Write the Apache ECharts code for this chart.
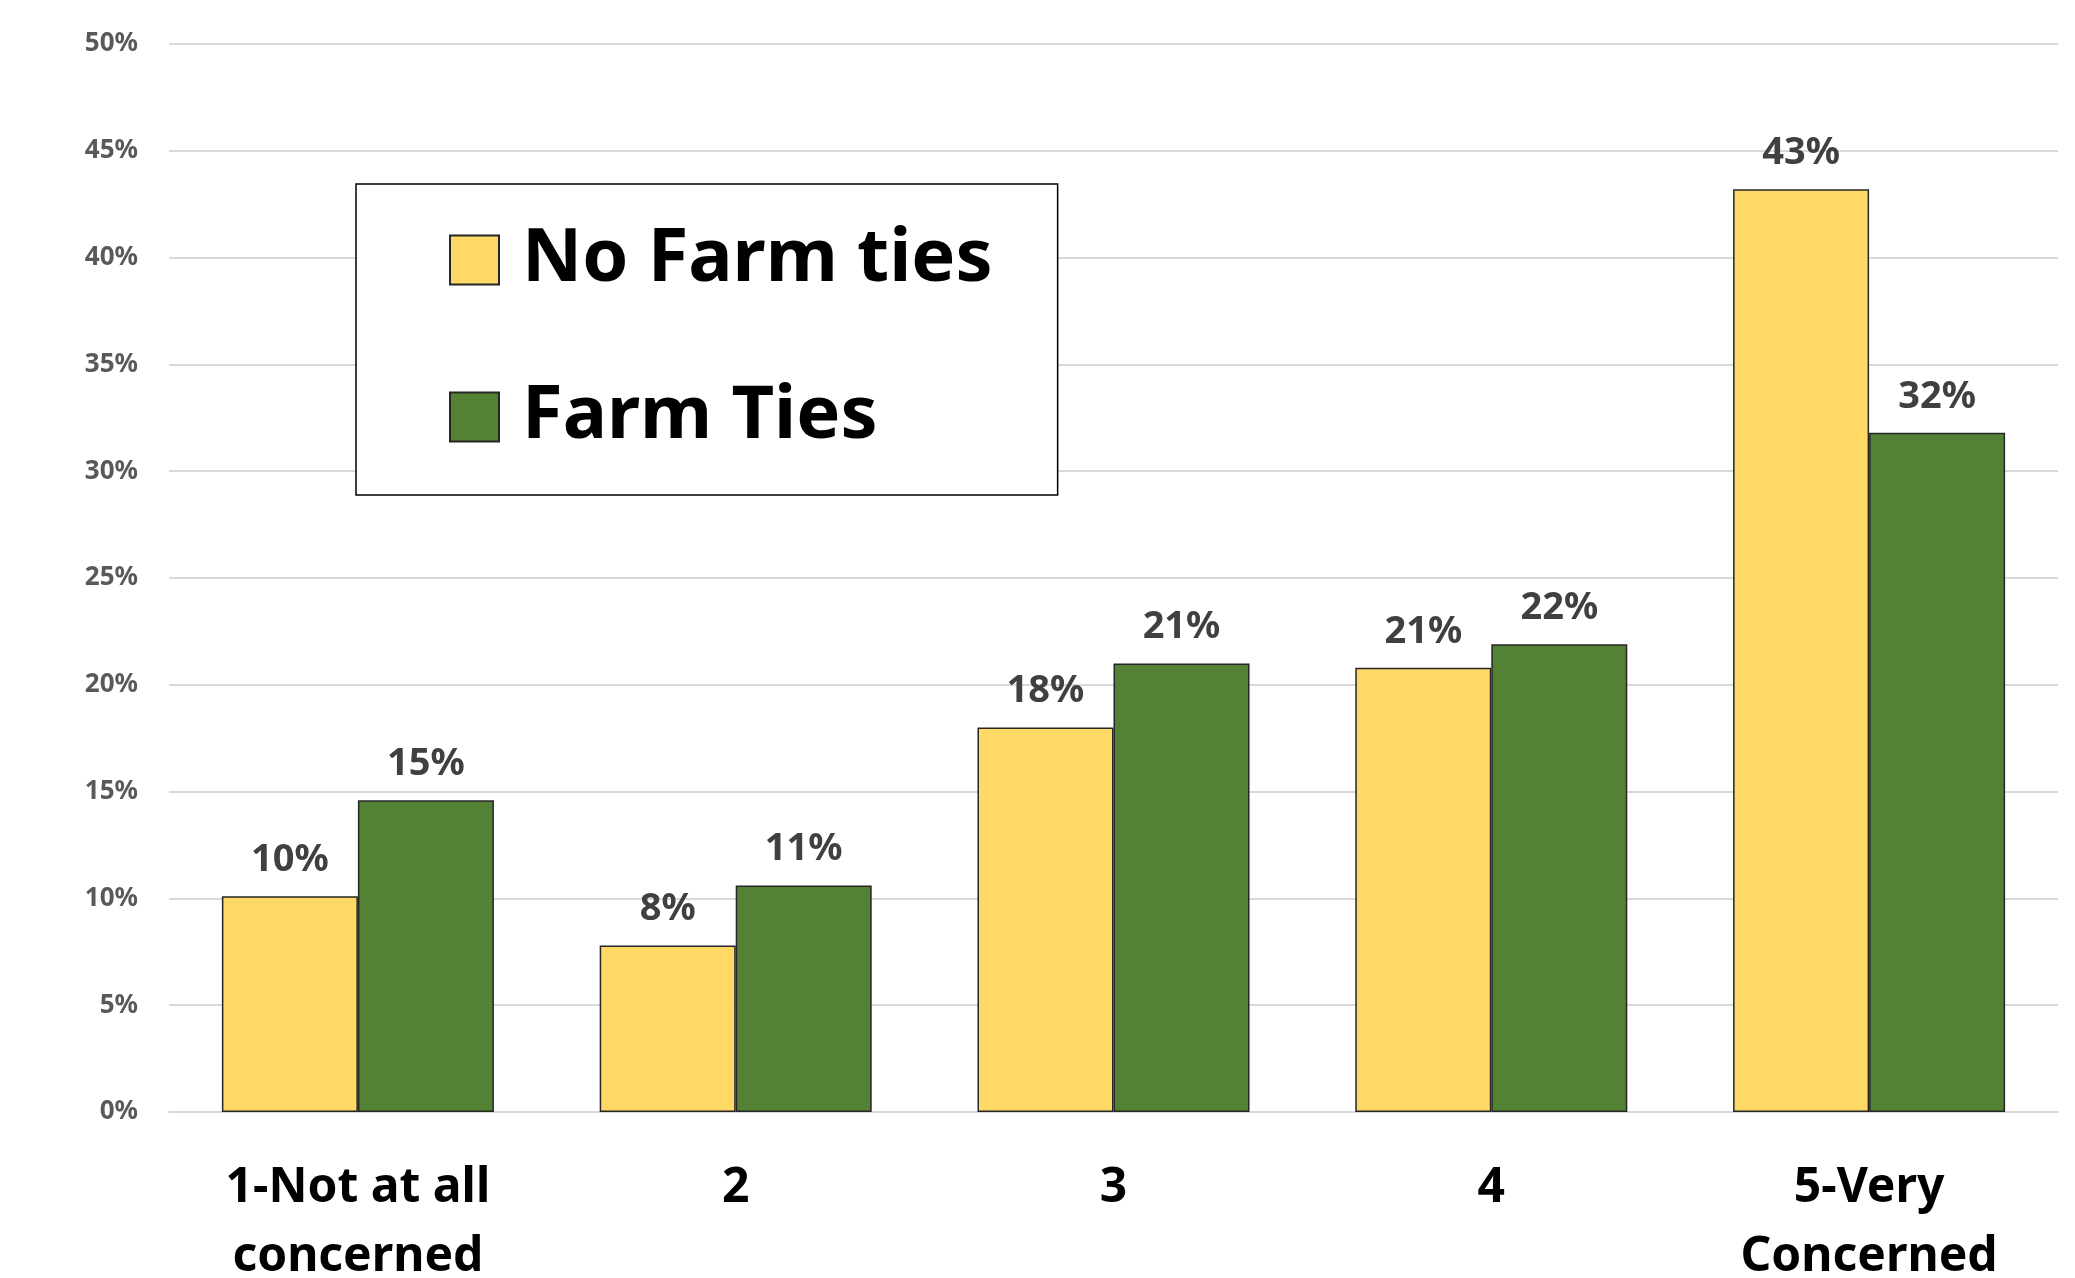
<!DOCTYPE html>
<html>
<head>
<meta charset="utf-8">
<script src="https://cdn.jsdelivr.net/npm/echarts@6/dist/echarts.min.js"></script>
<style>
html,body{margin:0;padding:0;background:#fff;}
#chart{width:2075px;height:1278px;}
</style>
</head>
<body>
<div id="chart"></div>
<script>
var categories = ['1-Not at all\nconcerned', '2', '3', '4', '5-Very\nConcerned'];
var seriesNames = ['No Farm ties', 'Farm Ties'];
var noFarmTies = [10.1, 7.8, 18.0, 20.8, 43.2];
var farmTies = [14.6, 10.6, 21.0, 21.9, 31.8];
var yTicks = {min: 0, max: 50, interval: 5};

var chart = echarts.init(document.getElementById('chart'));
var labelOpt = {
  show: true,
  position: 'top',
  distance: 17,
  color: '#404040',
  fontFamily: 'Noto Sans',
  fontWeight: 'bold',
  fontSize: 38,
  formatter: function (p) { return Math.round(p.value) + '%'; }
};
chart.setOption({
  animation: false,
  backgroundColor: '#ffffff',
  grid: {left: 169, right: 17, top: 44, bottom: 166, containLabel: false, outerBoundsMode: 'none'},
  legend: {
    orient: 'vertical',
    left: 356,
    top: 184,
    padding: [39, 65, 41, 93],
    borderColor: '#000000',
    borderWidth: 1.5,
    backgroundColor: '#ffffff',
    itemWidth: 49,
    itemHeight: 49,
    itemGap: 83,
    icon: 'rect',
    textStyle: {
      fontFamily: 'Noto Sans',
      fontWeight: 'bold',
      fontSize: 74,
      color: '#000000',
      padding: [0, 0, 0, 18]
    },
    data: seriesNames
  },
  xAxis: {
    type: 'category',
    data: categories,
    axisLine: {show: true, lineStyle: {color: '#d9d9d9', width: 2}},
    axisTick: {show: false},
    axisLabel: {
      color: '#000000',
      fontFamily: 'Noto Sans',
      fontWeight: 'bold',
      fontSize: 48,
      lineHeight: 69,
      margin: 42,
      interval: 0
    }
  },
  yAxis: {
    type: 'value',
    min: yTicks.min,
    max: yTicks.max,
    interval: yTicks.interval,
    axisLine: {show: false},
    axisTick: {show: false},
    splitLine: {lineStyle: {color: '#d9d9d9', width: 2}},
    axisLabel: {
      formatter: '{value}%',
      color: '#595959',
      fontFamily: 'Noto Sans',
      fontWeight: 'bold',
      fontSize: 26,
      margin: 31
    }
  },
  series: [
    {
      name: seriesNames[0],
      type: 'bar',
      data: noFarmTies,
      barGap: '0%',
      barCategoryGap: '28%',
      itemStyle: {color: '#FFD966', borderColor: '#262626', borderWidth: 1.5},
      label: labelOpt
    },
    {
      name: seriesNames[1],
      type: 'bar',
      data: farmTies,
      barGap: '0%',
      barCategoryGap: '28%',
      itemStyle: {color: '#548235', borderColor: '#262626', borderWidth: 1.5},
      label: labelOpt
    }
  ]
});
</script>
</body>
</html>
